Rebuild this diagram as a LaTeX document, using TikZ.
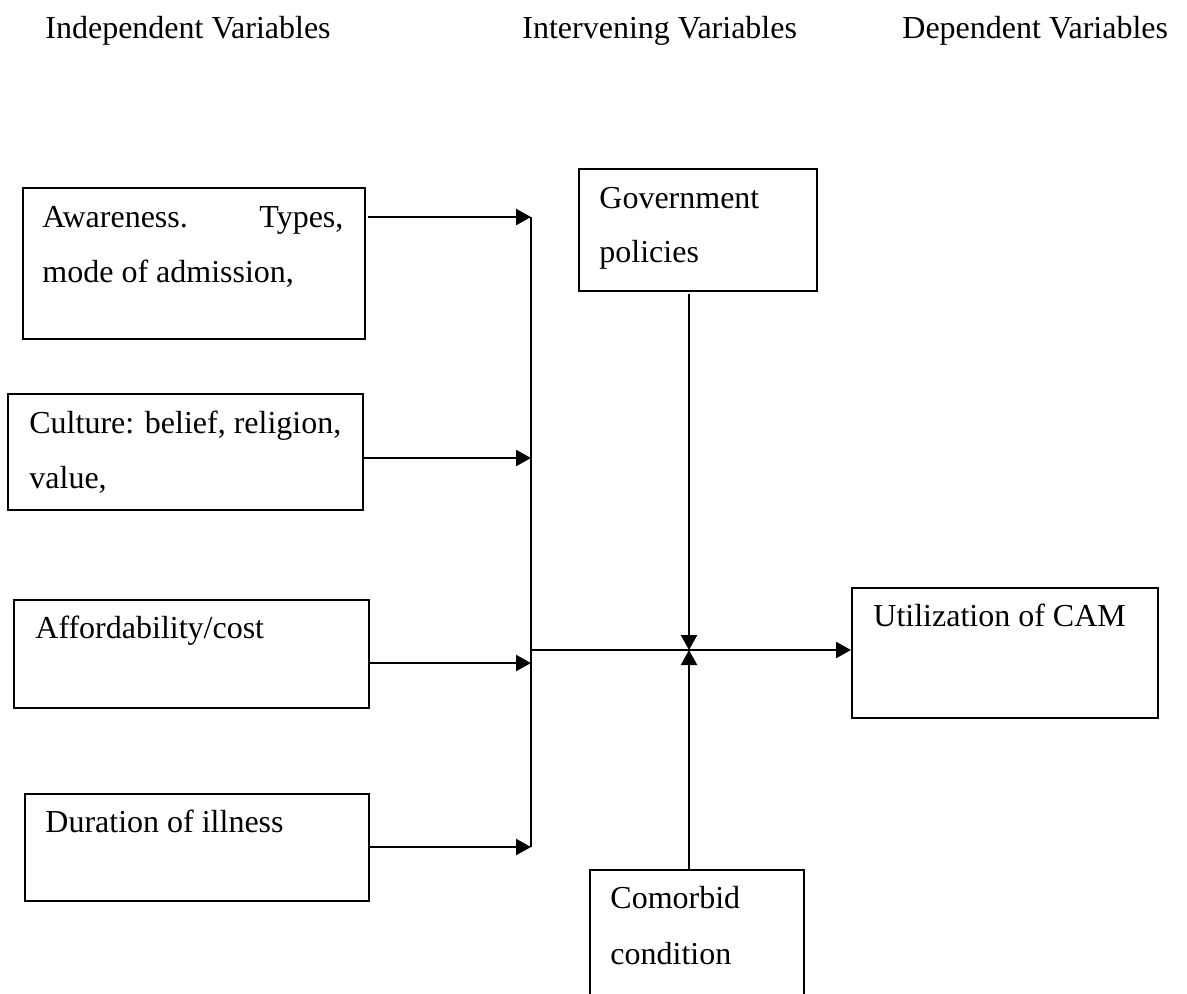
\documentclass[tikz,border=0pt]{standalone}
\usepackage{fontspec}
\setmainfont{Liberation Serif}
\usetikzlibrary{arrows.meta}
\begin{document}
\begin{tikzpicture}[x=0.5pt,y=-0.5pt,
  box/.style={draw, line width=0.9pt, rectangle, inner sep=0pt, anchor=north west},
  txt/.style={anchor=base west, inner sep=0pt, font=\fontsize{16}{19}\selectfont},
  arr/.style={line width=1.2pt, -{Triangle[length=7.5pt,width=8pt]}}]
\useasboundingbox (0,0) rectangle (1187,993);
% headers
\node[txt] (h1) at (45,38) {Independent Variables};
\node[txt] (h2) at (522,38) {Intervening Variables};
\node[txt] (h3) at (902,38) {Dependent Variables};
% boxes
\node[box, minimum width=171pt, minimum height=75.5pt] (aw) at (22,187) {};
\node[box, minimum width=177.5pt, minimum height=58pt] (cu) at (7,393) {};
\node[box, minimum width=177.5pt, minimum height=54pt] (af) at (13,599) {};
\node[box, minimum width=172pt, minimum height=53.5pt] (du) at (24,793) {};
\node[box, minimum width=119pt, minimum height=61pt] (gov) at (578,168) {};
\node[box, minimum width=153pt, minimum height=65pt] (ut) at (851,587) {};
\node[box, minimum width=107pt, minimum height=68pt] (co) at (589,869) {};
% texts
\node[txt] (aw1) at (42,227) {\makebox[150.5pt][s]{Awareness.\hfill Types,}};
\node[txt] (aw2) at (42,282) {mode of admission,};
\node[txt] (cu1) at (29,433) {Culture: belief, religion,};
\node[txt] (cu2) at (29,488) {value,};
\node[txt] (af1) at (35,638) {Affordability/cost};
\node[txt] (du1) at (45,832) {Duration of illness};
\node[txt] (gov1) at (599,208) {Government};
\node[txt] (gov2) at (599,262) {policies};
\node[txt] (ut1) at (873,626) {Utilization of CAM};
\node[txt] (co1) at (610,908) {Comorbid};
\node[txt] (co2) at (610,964) {condition};
% junction coordinates
\coordinate (j1) at (531,217);
\coordinate (j2) at (531,458);
\coordinate (j3) at (531,663);
\coordinate (j4) at (531,847);
\coordinate (jm) at (531,650);
\coordinate (jc) at (689,650);
\coordinate (gs) at (689,294);
% connectors
\draw[arr] (368,217) -- (j1);
\draw[arr] (cu.east |- j2) -- (j2);
\draw[arr] (af.east |- j3) -- (j3);
\draw[arr] (370,847) -- (j4);
\draw[line width=0.9pt] (j1) -- (j4);
\draw[arr] (jm) -- (ut.west |- jm);
\draw[arr] (gs) -- (jc);
\draw[arr] (co.north -| jc) -- (jc);
\end{tikzpicture}
\end{document}
